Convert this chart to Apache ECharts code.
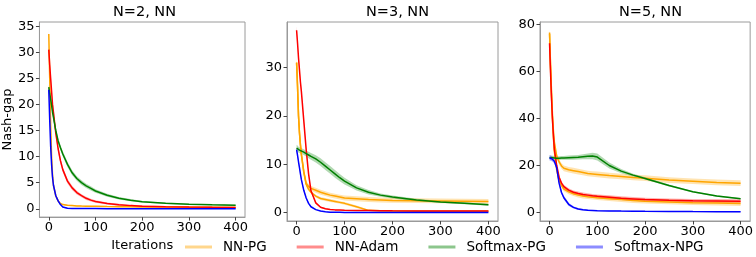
<!DOCTYPE html>
<html><head><meta charset="utf-8">
<script src="https://cdn.jsdelivr.net/npm/echarts@6/dist/echarts.min.js"></script>
<style>html,body{margin:0;padding:0;background:#fff}#c{width:756px;height:257px}</style>
</head><body><div id="c"></div>
<script>
// iterations sampled
const iters = [0,2,4,6,8,10,15,20,25,30,40,50,60,70,80,90,100,125,150,175,200,250,300,350,400];
const xTicks = [0,100,200,300,400];
const titles = ['N=2, NN','N=3, NN','N=5, NN'];
const legendNames = ['NN-PG','NN-Adam','Softmax-PG','Softmax-NPG'];
const yTicks1 = [0,5,10,15,20,25,30,35];
const yTicks2 = [0,10,20,30];
const yTicks3 = [0,20,40,60,80];

// ---- N=2 ----
const n2_nnpg      = [33.5,25,16,10,6.5,4.5,2.5,1.5,1.0,0.8,0.65,0.6,0.55,0.52,0.5,0.48,0.47,0.43,0.4,0.37,0.35,0.32,0.3,0.28,0.25];
const n2_nnpg_hw   = [1.0,1.0,0.8,0.6,0.5,0.4,0.3,0.2,0.15,0.15,0.12,0.12,0.1,0.1,0.1,0.1,0.1,0.1,0.1,0.1,0.1,0.08,0.08,0.08,0.08];
const n2_adam      = [30.5,27.5,25,22.5,20,18.5,14.5,11.5,9.2,7.5,5.3,4.0,3.1,2.5,2.0,1.65,1.4,1.0,0.75,0.6,0.5,0.4,0.33,0.28,0.25];
const n2_adam_hw   = [1.0,1.0,0.9,0.9,0.8,0.8,0.7,0.6,0.55,0.5,0.45,0.4,0.35,0.3,0.3,0.25,0.25,0.2,0.2,0.15,0.15,0.12,0.12,0.12,0.12];
const n2_smpg      = [23.3,22,21,19.8,18.5,17.5,15,13,11.7,10.5,8.5,6.9,5.8,5.0,4.4,3.9,3.4,2.6,2.0,1.65,1.35,1.05,0.88,0.75,0.65];
const n2_smpg_hw   = [0.5,0.5,0.5,0.5,0.5,0.5,0.5,0.5,0.5,0.5,0.5,0.5,0.45,0.45,0.4,0.4,0.35,0.3,0.25,0.2,0.15,0.12,0.1,0.1,0.1];
const n2_smnpg     = [22.8,17,12,8.5,6,4.5,2.5,1.5,0.8,0.35,0.08,0.05,0.04,0.03,0.03,0.03,0.03,0.02,0.02,0.02,0.02,0.02,0.02,0.02,0.02];
const n2_smnpg_hw  = [0.8,0.8,0.7,0.6,0.5,0.4,0.3,0.25,0.2,0.15,0.08,0.05,0.05,0.05,0.05,0.05,0.05,0.05,0.05,0.05,0.05,0.05,0.05,0.05,0.05];

// ---- N=3 ----
const n3_nnpg_a    = [31,26,20,16.5,14,12,8.5,6,5.4,5.0,4.6,4.2,3.9,3.6,3.4,3.2,3.0,2.85,2.7,2.6,2.5,2.45,2.4,2.35,2.3];
const n3_nnpg_a_hw = [0.8,0.8,0.7,0.6,0.6,0.5,0.5,0.5,0.5,0.5,0.5,0.5,0.5,0.5,0.5,0.5,0.5,0.5,0.5,0.5,0.5,0.5,0.5,0.5,0.5];
const n3_nnpg_b    = [31,26,20,16.5,14,12,8.3,5.8,4.8,4.2,3.4,2.9,2.7,2.5,2.3,2.1,1.9,1.2,0.45,0.35,0.3,0.28,0.26,0.25,0.25];
const n3_nnpg_b_hw = [0.8,0.8,0.7,0.6,0.6,0.5,0.4,0.35,0.3,0.3,0.3,0.3,0.3,0.3,0.3,0.3,0.3,0.25,0.15,0.1,0.1,0.1,0.1,0.1,0.1];
const n3_adam      = [37.7,35,32,29.5,27,25,19,13,8,4.5,2.0,1.1,0.8,0.65,0.55,0.5,0.45,0.42,0.4,0.38,0.36,0.34,0.32,0.31,0.3];
const n3_adam_hw   = [0.8,0.8,0.8,0.7,0.7,0.6,0.5,0.5,0.4,0.3,0.2,0.15,0.12,0.1,0.1,0.1,0.1,0.1,0.1,0.1,0.1,0.1,0.1,0.1,0.1];
const n3_smpg      = [13.3,13.2,13.0,12.9,12.8,12.7,12.5,12.2,11.9,11.6,11.1,10.4,9.6,8.8,8.0,7.2,6.5,5.1,4.2,3.6,3.2,2.6,2.2,1.9,1.6];
const n3_smpg_hw   = [0.7,0.65,0.6,0.6,0.6,0.6,0.6,0.6,0.65,0.7,0.75,0.8,0.8,0.8,0.8,0.75,0.7,0.55,0.45,0.35,0.3,0.25,0.2,0.2,0.2];
const n3_smnpg     = [13,11.8,10.5,9.3,8,6.8,4.6,3.0,1.9,1.2,0.6,0.3,0.15,0.08,0.05,0.04,0.03,0.02,0.02,0.02,0.02,0.02,0.02,0.02,0.02];
const n3_smnpg_hw  = [0.5,0.5,0.45,0.4,0.4,0.35,0.3,0.25,0.2,0.15,0.1,0.08,0.05,0.05,0.05,0.05,0.05,0.05,0.05,0.05,0.05,0.05,0.05,0.05,0.05];

// ---- N=5 ----
const n5_nnpg_a    = [76.5,63,52,42,35,30,24,21.5,19.8,18.8,18.2,17.8,17.4,17.0,16.6,16.4,16.2,15.7,15.3,14.9,14.6,13.8,13.3,12.8,12.5];
const n5_nnpg_a_hw = [1.5,1.5,1.4,1.3,1.3,1.2,1.2,1.2,1.2,1.2,1.2,1.2,1.2,1.2,1.2,1.2,1.2,1.2,1.2,1.2,1.2,1.2,1.2,1.2,1.2];
const n5_nnpg_b    = [76,62,50,40,32,26,18,13.5,11.5,10,8.8,8,7.4,7.0,6.7,6.5,6.3,5.9,5.5,5.1,4.8,4.5,4.2,4.0,3.8];
const n5_nnpg_b_hw = [1.5,1.5,1.4,1.3,1.2,1.1,1.0,1.0,1.0,1.0,1.0,1.0,1.0,1.0,1.0,1.0,1.0,1.0,1.0,1.0,1.0,1.0,1.0,1.0,1.0];
const n5_adam      = [72,60,49,40,33,27,20,15,12.5,11,9.5,8.6,8.1,7.7,7.4,7.1,6.9,6.5,6.1,5.8,5.5,5.2,5.0,4.9,4.8];
const n5_adam_hw   = [1.2,1.2,1.1,1.0,1.0,0.9,0.9,0.8,0.8,0.8,0.8,0.8,0.8,0.8,0.8,0.8,0.8,0.8,0.8,0.8,0.8,0.8,0.8,0.8,0.8];
const n5_smpg      = [23.3,23.3,23.3,23.3,23.3,23.2,23.1,23.1,23.2,23.2,23.3,23.4,23.5,23.7,23.9,24.0,23.6,20.0,17.6,15.9,14.5,11.5,8.8,7.0,5.9];
const n5_smpg_hw   = [0.8,0.8,0.8,0.8,0.8,0.8,0.8,0.8,0.8,0.8,0.9,1.0,1.0,1.1,1.2,1.4,1.5,1.3,0.9,0.6,0.5,0.4,0.3,0.3,0.3];
const n5_smnpg     = [23.3,23.2,23,22.7,22.3,21.8,19,12.5,8.5,6.3,3.5,2.2,1.5,1.2,1.0,0.9,0.8,0.7,0.6,0.55,0.5,0.45,0.4,0.38,0.35];
const n5_smnpg_hw  = [1.2,1.2,1.1,1.1,1.0,1.0,1.0,0.9,0.8,0.8,0.7,0.5,0.4,0.3,0.25,0.2,0.2,0.2,0.2,0.2,0.2,0.2,0.2,0.2,0.2];

const COLORS = {'NN-PG':'#FFA500','NN-Adam':'#FF0000','Softmax-PG':'#008000','Softmax-NPG':'#0000FF'};
const FONT = 'DejaVu Sans';

const panels = [
  {min:-1.6, max:35.8, yt:yTicks1, series:[
    ['NN-PG', n2_nnpg, n2_nnpg_hw], ['NN-Adam', n2_adam, n2_adam_hw],
    ['Softmax-PG', n2_smpg, n2_smpg_hw], ['Softmax-NPG', n2_smnpg, n2_smnpg_hw]]},
  {min:-1.75, max:39.4, yt:yTicks2, series:[
    ['NN-PG', n3_nnpg_a, n3_nnpg_a_hw], ['NN-PG', n3_nnpg_b, n3_nnpg_b_hw], ['NN-Adam', n3_adam, n3_adam_hw],
    ['Softmax-PG', n3_smpg, n3_smpg_hw], ['Softmax-NPG', n3_smnpg, n3_smnpg_hw]]},
  {min:-3.6, max:81, yt:yTicks3, series:[
    ['NN-PG', n5_nnpg_a, n5_nnpg_a_hw], ['NN-PG', n5_nnpg_b, n5_nnpg_b_hw], ['NN-Adam', n5_adam, n5_adam_hw],
    ['Softmax-PG', n5_smpg, n5_smpg_hw], ['Softmax-NPG', n5_smnpg, n5_smnpg_hw]]}
];
const gridLefts = [34, 287, 540];

function hexA(hex, a){
  const r=parseInt(hex.slice(1,3),16), g=parseInt(hex.slice(3,5),16), b=parseInt(hex.slice(5,7),16);
  return `rgba(${r},${g},${b},${a})`;
}

const grids=[], xAxes=[], yAxes=[], series=[], titleArr=[];
const axisGray = '#9a9a9a';
panels.forEach((p, gi) => {
  grids.push({left:gridLefts[gi], top:22, width:211, height:199, show:true, borderColor:axisGray, borderWidth:1, containLabel:false});
  titleArr.push({text:titles[gi], left:gridLefts[gi]+105.5, top:0, textAlign:'center',
    textStyle:{fontFamily:FONT, fontSize:14.5, fontWeight:'normal', color:'#000'}});
  xAxes.push({type:'value', gridIndex:gi, min:-20, max:420,
    splitLine:{show:false},
    axisLine:{show:true, onZero:false, lineStyle:{color:axisGray}},
    axisTick:{show:true, length:3.5, lineStyle:{color:'#444'}, customValues:xTicks},
    axisLabel:{fontFamily:FONT, fontSize:13, color:'#000', margin:4, customValues:xTicks},
    name: gi===0 ? 'Iterations' : '', nameLocation:'middle', nameGap:21,
    nameTextStyle:{fontFamily:FONT, fontSize:13, color:'#000'}});
  yAxes.push({type:'value', gridIndex:gi, min:p.min, max:p.max,
    splitLine:{show:false},
    axisLine:{show:true, onZero:false, lineStyle:{color:axisGray}},
    axisTick:{show:true, length:3.5, lineStyle:{color:'#444'}, customValues:p.yt},
    axisLabel:{fontFamily:FONT, fontSize:13, color:'#000', margin:5, customValues:p.yt},
    name: gi===0 ? 'Nash-gap' : '', nameLocation:'middle', nameGap:21, nameRotate:90,
    nameTextStyle:{fontFamily:FONT, fontSize:13, color:'#000'}});
  p.series.forEach(([name, mean, hw]) => {
    const col = COLORS[name];
    // band: data rows [iteration, lower, upper]
    const bandData = iters.map((x,i)=>[x, mean[i]-hw[i], mean[i]+hw[i]]);
    series.push({type:'custom', xAxisIndex:gi, yAxisIndex:gi, silent:true, animation:false,
      data: bandData, encode:{x:0, y:[1,2]}, clip:true,
      renderItem: (params, api) => {
        if (params.dataIndex !== 0) return null;
        const top = bandData.map(d => api.coord([d[0], d[2]]));
        const bot = bandData.map(d => api.coord([d[0], d[1]])).reverse();
        return {type:'polygon', shape:{points: top.concat(bot)},
          style:{fill: hexA(col, 0.3), stroke:null}};
      }});
    series.push({type:'line', xAxisIndex:gi, yAxisIndex:gi, name:name, symbol:'none', silent:true, animation:false,
      data: iters.map((x,i)=>[x, mean[i]]), lineStyle:{color:col, width:1.5}, itemStyle:{color:col}});
  });
});

const chart = echarts.init(document.getElementById('c'), null, {renderer:'canvas'});
chart.setOption({
  animation:false,
  backgroundColor:'#fff',
  title:titleArr,
  grid:grids, xAxis:xAxes, yAxis:yAxes, series:series,
  legend:{show:true, left:180, top:235, orient:'horizontal', itemWidth:27, itemHeight:3, itemGap:30,
    icon:'rect', selectedMode:false,
    textStyle:{fontFamily:FONT, fontSize:13.5, color:'#000', padding:[0,0,0,6]},
    data: legendNames.map(n=>({name:n, icon:'rect', itemStyle:{color:hexA(COLORS[n],0.45)}}))}
});
</script></body></html>
